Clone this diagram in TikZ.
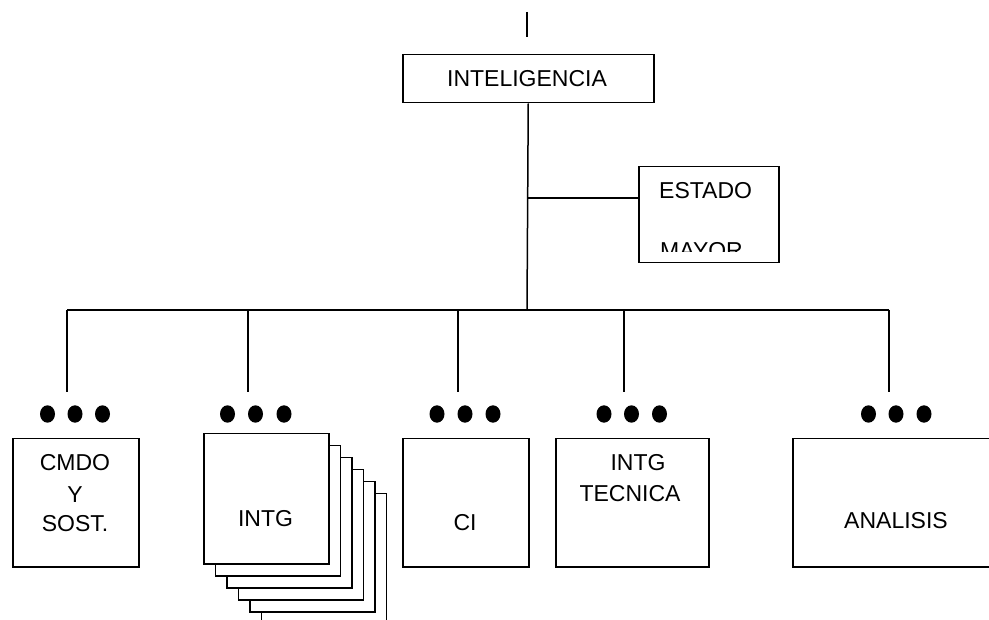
\documentclass[tikz,border=0pt]{standalone}
\usepackage{fontspec}
\setmainfont{Liberation Sans}
\begin{document}
\begin{tikzpicture}[x=1pt,y=-1pt,
  box/.style={draw,line width=1.5pt,fill=white,inner sep=0pt,anchor=north west},
  lbl/.style={inner sep=0pt,anchor=base,font=\fontsize{23}{28}\selectfont},
  lblw/.style={inner sep=0pt,anchor=base west,font=\fontsize{23}{28}\selectfont},
  conn/.style={line width=1.5pt},
  dotm/.style={fill=black}]
\useasboundingbox (0,0) rectangle (989,620);
\clip (0,0) rectangle (989,620);
% top
\coordinate (topA) at (527,12);
\coordinate (topB) at (527,37);
\draw[conn] (topA) -- (topB);
\node[box,minimum width=251pt,minimum height=48pt] (intel) at (402,54) {};
\node[lbl] (tintel) at (527,87) {INTELIGENCIA};
% estado mayor
\node[box,minimum width=140pt,minimum height=96pt] (estado) at (638,166) {};
\node[lblw] (testado) at (659,199) {ESTADO};
\begin{scope}
\clip (638,166) rectangle (778,252);
\node[lblw] (tmayor) at (660,258.5) {MAYOR};
\end{scope}
% connectors
\coordinate (jest) at (527,198);
\coordinate (jmain) at (527,310);
\draw[conn] (intel.south) -- (jmain);
\draw[conn] (jest) -- (jest -| estado.west);
\coordinate (b1) at (67,310);
\coordinate (b2) at (248,310);
\coordinate (b3) at (458,310);
\coordinate (b4) at (624,310);
\coordinate (b5) at (889,310);
\draw[conn] (b1) -- (b5);
\foreach \i/\x in {1/67,2/248,3/458,4/624,5/889}{
  \coordinate (e\i) at (\x,392);
  \draw[conn] (b\i) -- (e\i);
}
% dots
\foreach \x in {47.5,75,102.5, 227.5,255.5,284, 437,465,493, 604,631.5,659.5, 868.5,896,924}{
  \fill[dotm] (\x,414) ellipse [x radius=7.5pt, y radius=8.7pt];
}
% CMDO
\node[box,minimum width=126pt,minimum height=128pt] (cmdo) at (12,438) {};
\node[lbl] (tcmdo1) at (75,471) {CMDO};
\node[lbl] (tcmdo2) at (75,503) {Y};
\node[lbl] (tcmdo3) at (75,532) {SOST.};
% INTG stack
\foreach \i in {5,4,3,2,1}{
  \node[box,minimum width=125pt,minimum height=130pt] (sheet\i) at ({203+11.5*\i},{433+12*\i}) {};
}
\node[box,minimum width=125pt,minimum height=130pt] (intg) at (203,433) {};
\node[lbl] (tintg) at (265.5,526) {INTG};
% CI
\node[box,minimum width=126pt,minimum height=128pt] (ci) at (402,438) {};
\node[lbl] (tci) at (465,530) {CI};
% INTG TECNICA
\node[box,minimum width=153pt,minimum height=128pt] (tec) at (555,438) {};
\node[lbl] (ttec1) at (638,471) {INTG};
\node[lbl] (ttec2) at (630,502) {TECNICA};
% ANALISIS
\node[box,minimum width=210pt,minimum height=128pt] (anal) at (792,438) {};
\node[lbl] (tanal) at (896,529) {ANALISIS};
\end{tikzpicture}
\end{document}
